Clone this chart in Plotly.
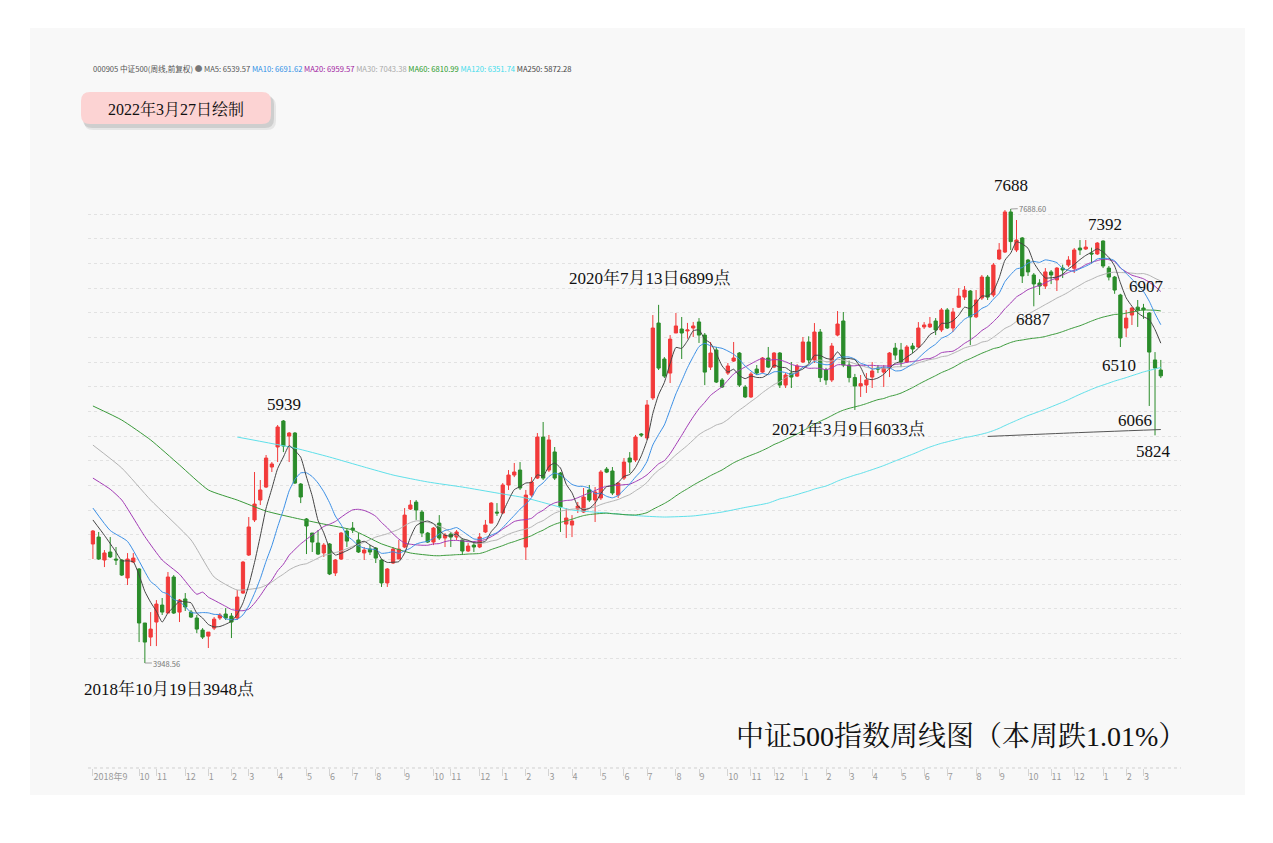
import numpy as np
import pandas as pd
import plotly.graph_objects as go

# ---------------- data (weekly candles, CSI 500) ----------------
week_idx = list(range(186))

open_ = [4929, 4986, 4797, 4863, 4805, 4797, 4649, 4780, 4723, 4278,
         4162, 4286, 4426, 4360, 4657, 4368, 4476, 4368, 4319, 4220,
         4170, 4236, 4319, 4352, 4335, 4319, 4525, 4838, 5127, 5291,
         5398, 5563, 5728, 5942, 5818, 5843, 5423, 5135, 5019, 4937,
         4855, 4929, 4690, 4805, 5036, 5060, 4962, 4855, 4887, 4895,
         4797, 4608, 4772, 4805, 4904, 5217, 5274, 5192, 5019, 4945,
         5101, 4978, 5011, 4986, 4962, 4871, 4920, 4904, 5028, 5101,
         5192, 5184, 5415, 5497, 5538, 4904, 5332, 5472, 5810, 5538,
         5687, 5513, 5093, 5085, 5217, 5192, 5374, 5291, 5308, 5546,
         5530, 5332, 5472, 5637, 5621, 5835, 5802, 6132, 6749, 6453,
         6337, 6667, 6700, 6684, 6708, 6758, 6650, 6386, 6527, 6280,
         6337, 6436, 6502, 6222, 6140, 6370, 6345, 6461, 6386, 6502,
         6238, 6337, 6312, 6428, 6593, 6445, 6675, 6362, 6280, 6650,
         6766, 6403, 6300, 6230, 6239, 6304, 6378, 6345, 6378, 6543,
         6527, 6428, 6560, 6552, 6717, 6717, 6766, 6692, 6857, 6708,
         6880, 6963, 7013, 6800, 6955, 7128, 6980, 7277, 7334, 7664,
         7351, 7450, 7268, 7145, 7079, 7054, 7170, 7104, 7202, 7227,
         7200, 7367, 7359, 7326, 7318, 7425, 7202, 7128, 6980, 6708,
         6815, 6880, 6873, 6832, 6445, 6362]

high_ = [5044, 5028, 4879, 4986, 4904, 4805, 4854, 4854, 4731, 4278,
         4368, 4467, 4484, 4698, 4673, 4476, 4525, 4385, 4344, 4236,
         4203, 4327, 4360, 4401, 4360, 4550, 4789, 5151, 5522, 5456,
         5662, 5604, 5909, 5950, 5851, 5851, 5431, 5143, 5019, 5044,
         4937, 4937, 4805, 5028, 5060, 5110, 5019, 4904, 4920, 4904,
         4805, 4731, 4904, 4962, 5225, 5291, 5291, 5209, 5028, 5069,
         5167, 5019, 5028, 5044, 4978, 4937, 4937, 5019, 5127, 5274,
         5266, 5431, 5538, 5596, 5604, 5374, 5480, 5843, 5934, 5827,
         5728, 5522, 5225, 5167, 5275, 5390, 5415, 5398, 5538, 5563,
         5563, 5439, 5637, 5686, 5827, 5843, 6115, 6815, 6899, 6469,
         6650, 6832, 6799, 6750, 6758, 6790, 6667, 6593, 6552, 6296,
         6420, 6593, 6510, 6238, 6345, 6403, 6469, 6552, 6510, 6510,
         6337, 6428, 6411, 6634, 6640, 6749, 6700, 6380, 6585, 6848,
         6840, 6440, 6330, 6321, 6337, 6428, 6403, 6403, 6510, 6585,
         6585, 6568, 6585, 6757, 6757, 6799, 6790, 6873, 6873, 6873,
         7037, 7054, 7021, 7021, 7145, 7145, 7244, 7408, 7680, 7688.6,
         7598, 7458, 7277, 7161, 7110, 7202, 7186, 7210, 7230, 7300,
         7367, 7433, 7433, 7370, 7416, 7430, 7219, 7137, 6990, 6857,
         6880, 6939, 6907, 6840, 6510, 6445]

low_ = [4805, 4797, 4739, 4814, 4756, 4665, 4591, 4772, 4121, 3948.56,
        4088, 4088, 4344, 4360, 4352, 4286, 4377, 4319, 4195, 4146,
        4072, 4220, 4303, 4303, 4154, 4303, 4517, 4830, 5110, 5250,
        5390, 5522, 5604, 5686, 5604, 5423, 5266, 4846, 4863, 4838,
        4822, 4673, 4665, 4797, 4904, 5019, 4855, 4797, 4838, 4772,
        4575, 4575, 4764, 4805, 4895, 5209, 5127, 4986, 4937, 4920,
        4962, 4904, 4904, 4962, 4838, 4863, 4863, 4895, 5019, 5101,
        5160, 5176, 5374, 5480, 5374, 4797, 5316, 5464, 5456, 5522,
        5456, 5028, 4978, 4986, 5184, 5184, 5275, 5110, 5291, 5513,
        5332, 5308, 5456, 5513, 5604, 5810, 5786, 6115, 6362, 6296,
        6255, 6667, 6453, 6620, 6634, 6585, 6238, 6362, 6255, 6214,
        6321, 6428, 6222, 6132, 6132, 6321, 6337, 6378, 6378, 6214,
        6214, 6214, 6304, 6420, 6420, 6420, 6263, 6240, 6263, 6640,
        6386, 6260, 6033, 6140, 6173, 6214, 6337, 6222, 6304, 6445,
        6386, 6420, 6500, 6543, 6700, 6708, 6650, 6675, 6700, 6675,
        6873, 6939, 6568, 6790, 6939, 6939, 6963, 7268, 7326, 7351,
        7334, 7079, 7137, 6887, 6980, 7030, 7070, 7013, 7120, 7210,
        7161, 7310, 7351, 7240, 7310, 7202, 7100, 6990, 6552, 6634,
        6733, 6717, 6783, 6066, 5824, 6296]

close_ = [5036, 4805, 4855, 4822, 4797, 4673, 4805, 4813, 4278, 4121,
          4228, 4434, 4368, 4657, 4360, 4467, 4410, 4327, 4228, 4162,
          4203, 4310, 4344, 4319, 4286, 4492, 4780, 5069, 5258, 5374,
          5637, 5588, 5893, 5736, 5843, 5431, 5316, 5077, 4945, 4846,
          4920, 4682, 4797, 5019, 4953, 5044, 4863, 4879, 4863, 4813,
          4608, 4723, 4887, 4887, 5167, 5250, 5209, 5019, 4945, 5060,
          4978, 5003, 4986, 5028, 4871, 4912, 4904, 4986, 5085, 5266,
          5184, 5415, 5497, 5522, 5390, 5332, 5439, 5810, 5472, 5786,
          5472, 5233, 5143, 5118, 5242, 5316, 5291, 5357, 5522, 5521,
          5349, 5431, 5604, 5604, 5810, 5827, 6074, 6708, 6378, 6312,
          6617, 6725, 6667, 6692, 6725, 6650, 6345, 6502, 6263, 6222,
          6395, 6461, 6238, 6140, 6329, 6337, 6461, 6386, 6502, 6238,
          6321, 6304, 6395, 6593, 6445, 6675, 6300, 6280, 6560, 6741,
          6403, 6300, 6230, 6250, 6280, 6354, 6370, 6378, 6502, 6485,
          6428, 6552, 6535, 6708, 6733, 6741, 6692, 6857, 6708, 6840,
          6971, 7021, 6800, 6939, 7128, 6963, 7227, 7351, 7664, 7420,
          7433, 7137, 7170, 7071, 7054, 7170, 7145, 7202, 7186, 7268,
          7351, 7351, 7375, 7318, 7408, 7219, 7128, 7021, 6626, 6790,
          6873, 6857, 6857, 6510, 6378, 6314]

# month tick labels (week index where each month starts)
tick_idx = [0, 8, 11, 16, 20, 24, 27, 32, 37, 41, 45, 49, 54, 59, 62, 67,
            71, 75, 79, 83, 88, 92, 96, 101, 105, 110, 114, 118,
            123, 127, 131, 135, 140, 144, 148, 153, 157, 162, 166, 170,
            175, 179, 182]
tick_text = ["2018年9", "10", "11", "12",
             "1", "2", "3", "4", "5", "6", "7", "8", "9", "10", "11", "12",
             "1", "2", "3", "4", "5", "6", "7", "8", "9", "10", "11", "12",
             "1", "2", "3", "4", "5", "6", "7", "8", "9", "10", "11", "12",
             "1", "2", "3"]

ma5_head_idx = [0, 2]
ma5_head_val = [5127, 5000]
ma10_head_idx = [0, 3, 6]
ma10_head_val = [5225, 5040, 4950]
ma20_head_idx = [0, 3, 5, 9, 12, 15, 18]
ma20_head_val = [5472, 5380, 5291, 4990, 4797, 4680, 4515]
ma30_head_idx = [0, 5, 10, 17, 21, 25]
ma30_head_val = [5744, 5555, 5291, 4962, 4657, 4550]
ma60_head_idx = [0, 5, 10, 15, 20, 25, 30, 35, 40, 45, 50, 55]
ma60_head_val = [6066, 5950, 5786, 5580, 5374, 5291, 5200, 5143, 5093, 5044, 4930, 4855]
ma120_head_idx = [25, 35, 41, 47, 52, 58, 64, 70, 75, 83, 89, 95, 99, 104, 109, 113, 117]
ma120_head_val = [5810, 5719, 5645, 5563, 5497, 5440, 5398, 5349, 5308, 5209, 5184, 5160,
                  5151, 5160, 5192, 5230, 5266]
ma250_idx = [155, 170, 185]
ma250_val = [5815, 5845, 5872]

legend_values = {"MA5": "6539.57", "MA10": "6691.62", "MA20": "6959.57", "MA30": "7043.38",
                 "MA60": "6810.99", "MA120": "6351.74", "MA250": "5872.28"}

assert len(open_) == len(high_) == len(low_) == len(close_) == len(week_idx)

# ---------------- styling / layout ----------------
# the page body adds an 8px offset; the figure is sized so that the plot
# area lands at page pixels x 88..1181, y 190..768
PAGE_OFF = 8
W, H = 1273 - PAGE_OFF, 843 - PAGE_OFF
PX0, PX1, PY0, PY1 = 88, 1181, 190, 768
ML, MT = PX0 - PAGE_OFF, PY0 - PAGE_OFF
MR, MB = W - (PX1 - PAGE_OFF), H - (PY1 - PAGE_OFF)
PW, PH = PX1 - PX0, PY1 - PY0


def X(px):
    return (px - PX0) / PW


def Y(py):
    return (PY1 - py) / PH


RED = "#f23a3a"
GREEN = "#2a8c2a"
SERIF = "Liberation Serif, Noto Serif CJK SC, Noto Sans CJK SC, serif"
SANS = "Noto Sans CJK SC, Noto Sans, sans-serif"

MA_COLORS = {"MA5": "#444444", "MA10": "#3a8fe6", "MA20": "#a23ab5", "MA30": "#b3b3b3",
             "MA60": "#3a9a3a", "MA120": "#5fe0ea", "MA250": "#555555"}
LEG_COLORS = {"MA5": "#555555", "MA10": "#2f8fe6", "MA20": "#a020a0", "MA30": "#aaaaaa",
              "MA60": "#2a9a2a", "MA120": "#3fdcec", "MA250": "#444444"}

fig = go.Figure()

fig.add_trace(go.Candlestick(
    x=week_idx, open=open_, high=high_, low=low_, close=close_,
    increasing=dict(line=dict(color=RED, width=1), fillcolor=RED),
    decreasing=dict(line=dict(color=GREEN, width=1), fillcolor=GREEN),
    whiskerwidth=0, showlegend=False, hoverinfo="skip"))

closes = pd.Series(close_, dtype=float)


def ma_line(n, head_idx, head_val):
    rolled = closes.rolling(n).mean()
    xs = list(head_idx) + list(range(n - 1, len(close_)))
    ys = list(head_val) + list(rolled.iloc[n - 1:])
    return xs, ys


for name, n, hi, hv in [("MA250", None, ma250_idx, ma250_val),
                        ("MA120", 120, ma120_head_idx, ma120_head_val),
                        ("MA60", 60, ma60_head_idx, ma60_head_val),
                        ("MA30", 30, ma30_head_idx, ma30_head_val),
                        ("MA20", 20, ma20_head_idx, ma20_head_val),
                        ("MA10", 10, ma10_head_idx, ma10_head_val),
                        ("MA5", 5, ma5_head_idx, ma5_head_val)]:
    if n is None:
        xs, ys = hi, hv
    else:
        xs, ys = ma_line(n, hi, hv)
    fig.add_trace(go.Scatter(x=xs, y=ys, mode="lines", name=name, showlegend=False,
                             hoverinfo="skip",
                             line=dict(color=MA_COLORS[name], width=1, shape="spline", smoothing=0.5)))

# axis ranges chosen so that the pixel layout matches the reference
y_lo, y_hi = 3083.6, 7845.1
grid_vals = [3989.8 + 203.1 * k for k in range(19)]

fig.update_layout(
    width=W, height=H,
    margin=dict(l=ML, r=MR, t=MT, b=MB, pad=0),
    paper_bgcolor="#ffffff", plot_bgcolor="rgba(0,0,0,0)",
    showlegend=False, boxgap=0.2,
    xaxis=dict(range=[-0.85, 188.5], tickmode="array", tickvals=tick_idx, ticktext=tick_text,
               tickangle=0, ticks="outside", ticklen=7, tickwidth=1, tickcolor="#d4d4d4",
               ticklabelposition="outside right",
               tickfont=dict(size=9, color="#9a9a9a", family=SANS),
               showline=False, showgrid=False, zeroline=False,
               rangeslider=dict(visible=False), fixedrange=True),
    yaxis=dict(range=[y_lo, y_hi], tickmode="array", tickvals=grid_vals, showticklabels=False,
               ticks="", showgrid=True, gridcolor="#e2e2e2", griddash="dot", gridwidth=1,
               zeroline=False, showline=False, fixedrange=True),
)


def rounded_path(x0, y0, x1, y1, r):
    return (f"M {X(x0 + r)},{Y(y0)} L {X(x1 - r)},{Y(y0)} Q {X(x1)},{Y(y0)} {X(x1)},{Y(y0 + r)} "
            f"L {X(x1)},{Y(y1 - r)} Q {X(x1)},{Y(y1)} {X(x1 - r)},{Y(y1)} "
            f"L {X(x0 + r)},{Y(y1)} Q {X(x0)},{Y(y1)} {X(x0)},{Y(y1 - r)} "
            f"L {X(x0)},{Y(y0 + r)} Q {X(x0)},{Y(y0)} {X(x0 + r)},{Y(y0)} Z")


shapes = [
    dict(type="rect", xref="paper", yref="paper", x0=X(30), x1=X(1245), y0=Y(795), y1=Y(28),
         fillcolor="#f8f8f8", line=dict(width=0), layer="below"),
    dict(type="line", xref="paper", yref="paper", x0=0, x1=1, y0=0, y1=0,
         line=dict(color="#cfcfcf", width=1, dash="dot")),
    dict(type="path", xref="paper", yref="paper", path=rounded_path(84, 97, 276, 130, 9),
         fillcolor="rgba(0,0,0,0.07)", line=dict(width=0)),
    dict(type="path", xref="paper", yref="paper", path=rounded_path(83, 95, 274, 128, 9),
         fillcolor="rgba(0,0,0,0.10)", line=dict(width=0)),
    dict(type="path", xref="paper", yref="paper", path=rounded_path(81, 92, 271, 124, 9),
         fillcolor="#fcd3d3", line=dict(width=0)),
]
fig.update_layout(shapes=shapes)


def txt(text, px, py, size=17, family=SERIF, color="#111111", xanchor="center"):
    return dict(text=text, x=X(px), y=Y(py), xref="paper", yref="paper", showarrow=False,
                xanchor=xanchor, yanchor="middle", font=dict(size=size, family=family, color=color))


legend_html = ('<span style="color:#555555">000905 中证500(周线,前复权)</span> '
               '<span style="color:#777777">●</span> ' +
               " ".join(f'<span style="color:{LEG_COLORS[k]}">{k}: {v}</span>'
                        for k, v in legend_values.items()))

annotations = [
    txt(legend_html, 91, 68, size=7.6, family=SANS, xanchor="left"),
    txt("2022年3月27日绘制", 176, 109, size=16),
    txt("5939", 284, 404),
    txt("2020年7月13日6899点", 650, 278),
    txt("7688", 1011, 186),
    txt("7392", 1105, 224),
    txt("6907", 1146, 286),
    txt("6887", 1033, 319),
    txt("6510", 1119, 365),
    txt("2021年3月9日6033点", 849, 429),
    txt("6066", 1135, 420),
    txt("5824", 1153, 452),
    txt("2018年10月19日3948点", 169, 689),
    txt("中证500指数周线图（本周跌1.01%）", 961, 736, size=28),
    dict(text="7688.60", x=159, y=7688.6, xref="x", yref="y", showarrow=True, ax=22, ay=-1,
         arrowhead=0, arrowwidth=0.8, arrowcolor="#888888",
         font=dict(size=7.5, family=SANS, color="#777777")),
    dict(text="3948.56", x=9, y=3948.56, xref="x", yref="y", showarrow=True, ax=22, ay=0,
         arrowhead=0, arrowwidth=0.8, arrowcolor="#888888",
         font=dict(size=7.5, family=SANS, color="#777777")),
]
fig.update_layout(annotations=annotations)

fig.write_html("out.html", config={"displayModeBar": False})
